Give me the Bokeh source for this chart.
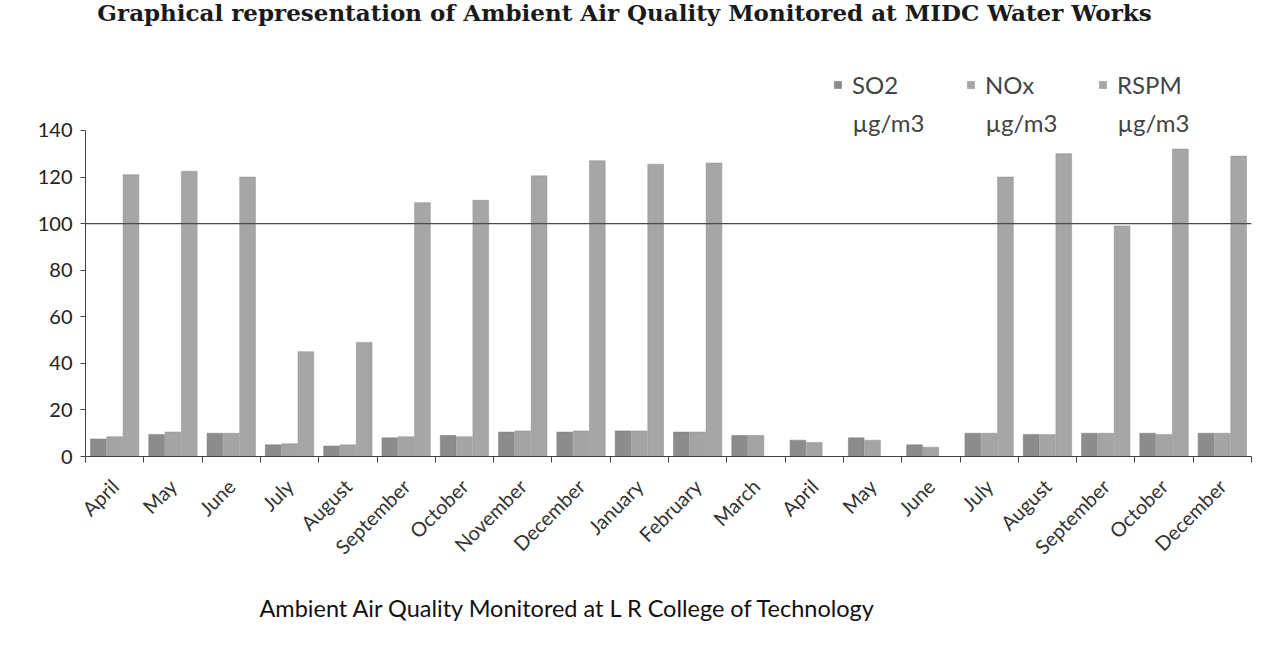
import numpy as np
from bokeh.plotting import figure
from bokeh.models import (FixedTicker, Span, Legend, LegendItem, ColumnDataSource, Range1d, Title, Label)
from bokeh.transform import dodge
from bokeh.embed import file_html
from bokeh.resources import INLINE

# ---------------- data ----------------
months = ["April", "May", "June", "July", "August", "September", "October",
          "November", "December", "January", "February", "March",
          "April", "May", "June", "July", "August", "September", "October", "December"]
so2 = [7.5, 9.5, 10, 5, 4.5, 8, 9, 10.5, 10.5, 11, 10.5, 9,
       7, 8, 5, 10, 9.5, 10, 10, 10]
nox = [8.5, 10.5, 10, 5.5, 5, 8.5, 8.5, 11, 11, 11, 10.5, 9,
       6, 7, 4, 10, 9.5, 10, 9.5, 10]
rspm = [121, 122.5, 120, 45, 49, 109, 110, 120.5, 127, 125.5, 126, np.nan,
        np.nan, np.nan, np.nan, 120, 130, 99, 132, 129]
limit_value = 100
y_ticks = [0, 20, 40, 60, 80, 100, 120, 140]

title_text = "Graphical representation of Ambient Air Quality Monitored at MIDC Water Works"
x_title = "Ambient Air Quality Monitored at L R College of Technology"
series_names = ["SO2", "NOx", "RSPM"]
unit_text = "µg/m3"

# ---------------- figure ----------------
idx = np.arange(len(months))
src = ColumnDataSource(dict(x=idx, so2=so2, nox=nox, rspm=rspm))

# plot area reaches the top of the canvas so the title and legend can sit above the 140 tick
p = figure(width=1262, height=660, output_backend="svg", toolbar_location=None,
           x_range=Range1d(-0.5, len(months) - 0.5), y_range=Range1d(0, 195.8),
           min_border_left=85, min_border_right=11, min_border_top=0, min_border_bottom=204)
p.title.visible = False
p.outline_line_color = None
p.xgrid.visible = False
p.ygrid.visible = False
p.background_fill_color = "white"

bw = 0.27
off = 0.28
r1 = p.vbar(x=dodge("x", -off), top="so2", width=bw, bottom=0, source=src, fill_color="#8c8c8c",
            line_color="#787878", line_width=0.5)
r2 = p.vbar(x=dodge("x", 0), top="nox", width=bw, bottom=0, source=src, fill_color="#a4a4a4",
            line_color="#919191", line_width=0.5)
r3 = p.vbar(x=dodge("x", off), top="rspm", width=bw, bottom=0, source=src, fill_color="#a6a6a6",
            line_color="#8e8e8e", line_width=0.5)

p.add_layout(Span(location=limit_value, dimension="width", line_color="#4a4a4a", line_width=1.3))

# axes
p.yaxis.ticker = FixedTicker(ticks=y_ticks)
p.yaxis.bounds = (y_ticks[0], y_ticks[-1])
p.yaxis.major_label_text_font = "Lato"
p.yaxis.major_label_text_font_size = "20px"
p.yaxis.major_label_text_color = "#222222"
p.yaxis.axis_line_color = "#444444"
p.yaxis.major_tick_line_color = "#444444"
p.yaxis.major_tick_in = 0
p.yaxis.major_tick_out = 5
p.yaxis.minor_tick_line_color = None
p.yaxis.major_label_standoff = 8

p.xaxis.ticker = FixedTicker(ticks=list(idx), minor_ticks=list(np.arange(len(months) + 1) - 0.5))
p.xaxis.major_label_overrides = {int(i): m for i, m in zip(idx, months)}
p.xaxis.major_label_orientation = np.pi / 4
p.xaxis.major_label_text_font = "Lato"
p.xaxis.major_label_text_font_size = "20px"
p.xaxis.major_label_text_color = "#333333"
p.xaxis.major_tick_line_color = None
p.xaxis.minor_tick_in = 0
p.xaxis.minor_tick_out = 6
p.xaxis.minor_tick_line_color = "#444444"
p.xaxis.axis_line_color = "#444444"
p.xaxis.major_label_standoff = 20

# chart title at the top of the page
p.add_layout(Label(x=539, y=444, x_units="screen", y_units="screen", text=title_text,
                   text_font="DejaVu Serif", text_font_style="bold", text_font_size="23px",
                   text_color="#1a1a1a", text_align="center", text_baseline="middle"))
# x-axis title
p.add_layout(Title(text=x_title, align="left", offset=174, standoff=42,
                   text_font="Lato", text_font_style="normal", text_font_size="23.5px",
                   text_color="#111111"), "below")

# legend: three entries placed like the original, unit on a second line
legend_x = [748, 881, 1013]
for r, lab, lx in zip([r1, r2, r3], series_names, legend_x):
    lg = Legend(items=[LegendItem(label=lab, renderers=[r])],
                location=(lx, 357), orientation="horizontal",
                label_text_font="Lato", label_text_font_size="24px", label_text_color="#444444",
                glyph_width=9, glyph_height=9, label_standoff=10,
                padding=0, margin=0, border_line_color=None, background_fill_alpha=0)
    p.add_layout(lg)
    p.add_layout(Label(x=lx + 19, y=334, x_units="screen", y_units="screen", text=unit_text,
                       text_font="Lato", text_font_size="24px", text_color="#444444",
                       text_align="left", text_baseline="middle"))

open("out.html", "w").write(file_html(p, INLINE))
